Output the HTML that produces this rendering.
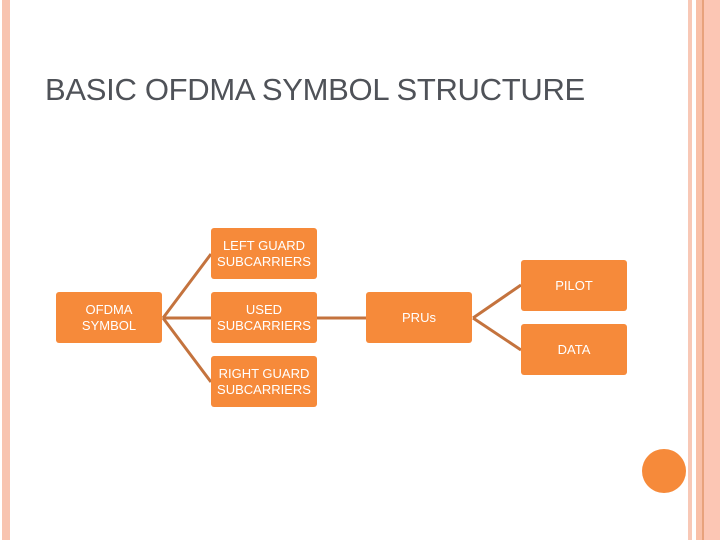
<!DOCTYPE html>
<html><head><style>
body{margin:0;width:720px;height:540px;position:relative;background:#fff;overflow:hidden;font-family:"Liberation Sans",sans-serif}
.s{position:absolute;top:0;height:540px}
.b{position:absolute;background:#f68a3a;border-radius:3px;color:#fff;font-size:13px;line-height:16px;text-align:center;display:flex;align-items:center;justify-content:center;width:106px;height:51px}
</style></head><body>
<div class="s" style="left:2px;width:8px;background:#f8c4b0"></div>
<div class="s" style="left:688px;width:4px;background:#f8c8b6"></div>
<div class="s" style="left:696px;width:6px;background:#f9c0a8"></div>
<div class="s" style="left:702px;width:2px;background:#e8a27c"></div>
<div class="s" style="left:704px;width:16px;background:#fcc6b4"></div>
<div style="position:absolute;left:45px;top:72px;font-size:31px;color:#4f5258;letter-spacing:-0.3px">BASIC OFDMA SYMBOL STRUCTURE</div>
<svg width="720" height="540" style="position:absolute;left:0;top:0">
<g stroke="#c4733e" stroke-width="3" fill="none">
<path d="M163 318 L211 254 M163 318 L211 318 M163 318 L211 382 M317 318 L366 318 M473 318 L521 285 M473 318 L521 350"/>
</g>
<circle cx="664" cy="471" r="22" fill="#f68a3a"/>
</svg>
<div class="b" style="left:56px;top:292px">OFDMA<br>SYMBOL</div>
<div class="b" style="left:211px;top:228px">LEFT GUARD<br>SUBCARRIERS</div>
<div class="b" style="left:211px;top:292px">USED<br>SUBCARRIERS</div>
<div class="b" style="left:211px;top:356px">RIGHT GUARD<br>SUBCARRIERS</div>
<div class="b" style="left:366px;top:292px">PRUs</div>
<div class="b" style="left:521px;top:260px;padding-left:0"><span style="margin-left:a">PILOT</span></div>
<div class="b" style="left:521px;top:324px">DATA</div>
</body></html>
